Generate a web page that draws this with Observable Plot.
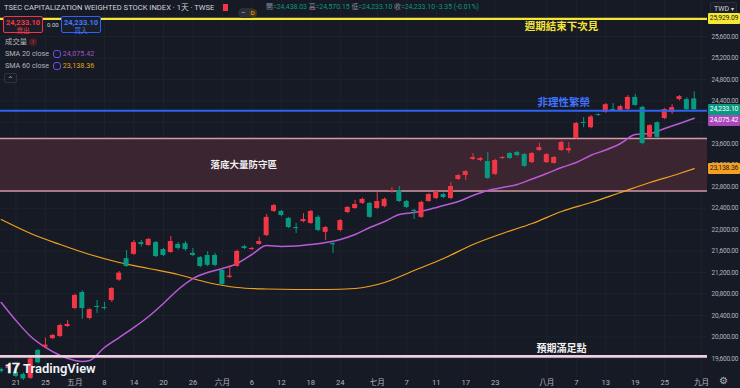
<!DOCTYPE html>
<html><head><meta charset="utf-8">
<script src="https://cdn.jsdelivr.net/npm/d3@7"></script>
<script src="https://cdn.jsdelivr.net/npm/@observablehq/plot@0.6"></script>
<style>
body{margin:0;background:#161a25;}
#wrap{position:relative;width:740px;height:388px;overflow:hidden;background:#161a25;font-family:Roboto,"Noto Sans CJK TC",sans-serif;}
.ov{position:absolute;white-space:nowrap;line-height:1;}
.tag{position:absolute;left:708px;width:32px;height:11px;font-size:6.8px;line-height:11px;text-align:center;border-radius:1px;letter-spacing:-0.15px;}
</style></head><body><div id="wrap"></div>
<script>
// ---- data (trading days, first entry = 2025-04-17) ----
const dates = ["04-17","04-18","04-21","04-22","04-23","04-24","04-25","04-28","04-29","04-30",
"05-02","05-05","05-06","05-07","05-08","05-09","05-12","05-13","05-14","05-15","05-16","05-19","05-20","05-21","05-22","05-23","05-26","05-27","05-28","05-29",
"06-02","06-03","06-04","06-05","06-06","06-09","06-10","06-11","06-12","06-13","06-16","06-17","06-18","06-19","06-20","06-23","06-24","06-25","06-26","06-27","06-30",
"07-01","07-02","07-03","07-04","07-07","07-08","07-09","07-10","07-11","07-14","07-15","07-16","07-17","07-18","07-21","07-22","07-23","07-24","07-25","07-28","07-29","07-30","07-31",
"08-01","08-04","08-05","08-06","08-07","08-08","08-11","08-12","08-13","08-14","08-15","08-18","08-19","08-20","08-21","08-22","08-25","08-26","08-27","08-28","08-29"];
const opens = [19395,19410,19345,19300,19230,19750,19810,19970,20010,20195,
20530,20830,20345,20570,20550,20680,21060,21460,21540,21760,21705,21760,21630,21575,21725,21740,21560,21480,21520,21520,
21240,21110,21315,21685,21630,21725,21890,22340,22340,22210,22040,22150,22115,22230,21950,21740,21985,22320,22395,22490,22490,
22395,22430,22715,22730,22525,22360,22230,22525,22580,22655,22580,22935,23010,23310,23290,23270,23030,23325,23420,23440,23400,23250,23475,
23250,23235,23475,23470,23700,24000,23900,24145,24185,24240,24220,24240,24465,24280,23720,23995,24070,24185,24425,24425,24438];
const highs = [19420,19460,19380,19330,19630,19770,19980,20050,20240,20310,
20800,20860,20530,20680,20645,20920,21220,21610,21800,21800,21840,21780,21650,21875,21760,21780,21650,21500,21590,21560,
21260,21330,21620,21710,21670,21855,22285,22470,22360,22230,22115,22300,22360,22260,22060,21760,22190,22430,22545,22590,22510,
22690,22590,22785,22805,22545,22380,22530,22680,22730,22680,22880,23030,23100,23420,23345,23440,23310,23365,23440,23460,23420,23440,23610,
23420,23365,23650,23625,24000,24090,24130,24160,24350,24350,24320,24500,24520,24300,23960,24010,24260,24330,24500,24460,24570];
const lows = [19330,19380,19240,19190,19210,19500,19800,19950,19990,20180,
20510,20330,20320,20440,20500,20645,21040,21300,21520,21680,21690,21480,21500,21560,21620,21600,21500,21290,21310,21310,
20960,21090,21300,21630,21610,21710,21870,22320,22240,22020,21930,22130,22100,21960,21800,21560,21960,22300,22380,22470,22210,
22380,22410,22680,22505,22395,22190,22210,22510,22560,22580,22560,22915,22915,23290,23270,22935,23010,23310,23310,23360,23160,23230,23460,
23230,23220,23460,23420,23680,23900,23880,24110,24170,24200,24200,24220,24300,23580,23700,23700,24050,24145,24400,24200,24233];
const closes = [19358,19440,19265,19220,19590,19520,19850,20030,20215,20235,
20775,20530,20510,20550,20530,20905,21190,21315,21760,21725,21820,21500,21520,21780,21650,21630,21520,21315,21335,21335,
20980,21135,21595,21650,21650,21780,22230,22450,22265,22040,22020,22190,22340,21985,22040,21720,22170,22415,22470,22565,22230,
22525,22565,22730,22525,22415,22340,22510,22655,22710,22600,22805,23010,23085,23345,23325,22955,23290,23345,23325,23380,23180,23420,23530,
23400,23345,23625,23510,23980,23980,24100,24130,24330,24220,24295,24465,24315,23605,23940,23720,24240,24275,24480,24236,24233.10];

// SMA lines (trading-day index, value)
const sma20Idx = [-2,0,2,4,6,8,9,10,12,14,16,18,20,22,24,26,28,30,32,34,36,38,40,42,44,46,48,50,52,54,56,58,60,62,64,66,68,70,72,74,76,78,80,82,84,86,88,90,92];
const sma20Val = [20644,20307,20010,19805,19656,19563,19544,19563,19805,19990,20178,20383,20625,20886,21090,21202,21277,21370,21538,21705,21687,21696,21724,21761,21817,21910,22041,22153,22283,22320,22376,22450,22525,22637,22730,22786,22842,22944,23047,23159,23252,23388,23485,23606,23774,23793,23886,23979,24075.42];
const sma60Idx = [-2,2,6,10,14,18,22,26,30,34,38,42,46,50,54,58,62,66,70,74,78,82,86,90,92];
const sma60Val = [22190,21930,21724,21538,21389,21277,21165,21016,20923,20895,20886,20886,20904,21016,21240,21463,21724,21930,22115,22339,22507,22693,22879,23047,23138.36];

const tickIdx = [0,4,8,12,16,20,24,28,32,36,40,44,49,53,57,61,65,72,76,80,84,88,93];
const tickLabels = ["21","25","五月","8","14","20","26","六月","6","12","18","24","七月","7","11","17","23","八月","7","13","19","25","九月"];
const priceTicks = [19600,20000,20400,20800,21200,21600,22000,22400,22800,23200,23600,24000,24400,24800,25200,25600];

const levelYellow = 25929.09, levelBlue = 24215, bandTop = 23700, bandBottom = 22720, levelPink = 19640;
const lastClose = 24233.10, sma20Last = 24075.42, sma60Last = 23138.36;

// ---- table ----
const candles = dates.map((d, k) => ({i: k - 2, date: d, o: opens[k], h: highs[k], l: lows[k], c: closes[k]}));
const ups = candles.filter(d => d.c >= d.o), downs = candles.filter(d => d.c < d.o);
const UP = "#f23645", DOWN = "#089981";
const s20 = sma20Idx.map((x, k) => ({x, y: sma20Val[k]}));
const s60 = sma60Idx.map((x, k) => ({x, y: sma60Val[k]}));
const FONT = "Roboto, 'Noto Sans CJK TC', sans-serif";

const body = (data, fill) => Plot.rect(data, {x1: d => d.i - 0.34, x2: d => d.i + 0.34, y1: "o", y2: "c", fill});
const wick = (data, stroke) => Plot.ruleX(data, {x: "i", y1: "l", y2: "h", stroke, strokeWidth: 1});

const plot = Plot.plot({
  width: 740, height: 388,
  marginLeft: 0, marginRight: 33, marginTop: 0, marginBottom: 11,
  style: {background: "transparent", color: "#b2b5be", fontSize: "8px", fontFamily: FONT},
  x: {domain: [-2.1, 93.8], axis: null},
  y: {domain: [19245.8, 26270.8], axis: null},
  marks: [
    Plot.ruleY(priceTicks, {stroke: "#1e222d", strokeWidth: 1}),
    Plot.ruleX(tickIdx, {stroke: "#1e222d", strokeWidth: 1}),
    Plot.axisX({ticks: tickIdx, tickFormat: d => tickLabels[tickIdx.indexOf(d)], tickSize: 0, tickPadding: 2, label: null, fontSize: 7.6, fill: "#b2b5be"}),
    Plot.axisY({anchor: "right", ticks: priceTicks, tickFormat: d3.format(",.2f"), tickSize: 0, tickPadding: 4, label: null, fontSize: 6.5, fill: "#b2b5be", className: "priceaxis"}),
    Plot.rect([{a: bandBottom, b: bandTop}], {y1: "a", y2: "b", fill: "#3a2530"}),
    Plot.ruleY([bandTop, bandBottom], {stroke: "#d49aaa", strokeWidth: 1.6}),
    Plot.line(s60, {x: "x", y: "y", stroke: "#f2a21c", strokeWidth: 1.2, curve: "monotone-x"}),
    Plot.line(s20, {x: "x", y: "y", stroke: "#b95ad8", strokeWidth: 1.5, curve: "monotone-x"}),
    wick(ups, UP), wick(downs, DOWN),
    body(ups, UP), body(downs, DOWN),
    Plot.ruleY([levelYellow], {stroke: "#f5e732", strokeWidth: 2.2}),
    Plot.ruleY([levelBlue], {stroke: "#2e62f0", strokeWidth: 2}),
    Plot.ruleY([levelPink], {stroke: "#f2cfe0", strokeWidth: 2.6}),
    Plot.text([{t: "週期結束下次見", y: levelYellow}], {x: () => 74, y: "y", text: "t", dy: 8, fill: "#f5e53a", fontSize: 10.5, fontWeight: "bold", fontFamily: FONT}),
    Plot.text([{t: "非理性繁榮", y: levelBlue}], {x: () => 74.3, y: "y", text: "t", dy: -8, fill: "#3f74ff", fontSize: 10.5, fontWeight: "bold", fontFamily: FONT}),
    Plot.text([{t: "預期滿足點", y: levelPink}], {x: () => 74, y: "y", text: "t", dy: -8, fill: "#f2f2f2", fontSize: 10, fontWeight: "bold", fontFamily: FONT}),
    Plot.text([{t: "落底大量防守區", y: (bandTop + bandBottom) / 2}], {x: () => 30.9, y: "y", text: "t", fill: "#f0f0f0", fontSize: 9.5, fontWeight: "bold", fontFamily: FONT})
  ]
});
plot.querySelectorAll(".priceaxis text").forEach(t => t.setAttribute("letter-spacing", "-0.2"));
const wrap = document.getElementById("wrap");
wrap.appendChild(plot);
plot.style.position = "absolute"; plot.style.left = "0"; plot.style.top = "0";

function ov(html, css) {
  const d = document.createElement("div");
  d.className = "ov"; d.innerHTML = html; d.style.cssText += css;
  wrap.appendChild(d); return d;
}
// header
ov("TSEC CAPITALIZATION WEIGHTED STOCK INDEX · 1天 · TWSE", "left:4px;top:3.5px;font-size:7.6px;color:#d1d4dc;");
ov("", "left:223px;top:4px;width:5px;height:7px;background:#f23645;");
ov("<span style='display:inline-block;width:18px;height:10px;border-radius:5px;background:#2a2e39;color:#b2b5be;font-size:7px;line-height:10px;padding-left:3px;box-sizing:border-box'>–<span style='display:inline-block;margin-left:3px;width:8px;height:8px;border-radius:4px;background:#4a3413;color:#f5a623;font-size:6px;line-height:8px;text-align:center;vertical-align:top;margin-top:1px'>D</span></span>", "left:238px;top:2px;");
const g = "color:#089981", lab = "color:#8a8f9c";
ov(`<span style="${lab}">開</span><span style="${g}">=24,438.03</span> <span style="${lab}">高</span><span style="${g}">=24,570.15</span> <span style="${lab}">低</span><span style="${g}">=24,233.10</span> <span style="${lab}">收</span><span style="${g}">=24,233.10 -3.35 (-0.01%)</span>`, "left:266px;top:4px;font-size:6.9px;");
ov("TWD <span style='font-size:6px'>▾</span>", "left:710px;top:2px;width:27px;height:12px;border:1px solid #2a2e39;background:#1a1e29;color:#d1d4dc;font-size:7px;line-height:12px;padding-left:3px;box-sizing:border-box;border-radius:2px;");
// buy/sell
ov("<div style='font-weight:bold;font-size:7.5px'>24,233.10</div><div style='font-size:6.5px;margin-top:1px'>賣出</div>", "left:3px;top:16px;width:40px;height:17px;border:1px solid #f23645;border-radius:2px;background:#1b1e28;color:#f23645;text-align:center;padding-top:2px;box-sizing:border-box;");
ov("0.00", "left:47px;top:22px;font-size:6px;color:#d1d4dc;");
ov("<div style='font-weight:bold;font-size:7.5px'>24,233.10</div><div style='font-size:6.5px;margin-top:1px'>買入</div>", "left:61px;top:16px;width:40px;height:17px;border:1px solid #2962ff;border-radius:2px;background:#1b1e28;color:#3d7bff;text-align:center;padding-top:2px;box-sizing:border-box;");
// legend
ov("成交量 <span style='display:inline-block;width:8px;height:8px;border-radius:4px;background:#4a1e26;color:#f23645;font-size:6px;line-height:8px;text-align:center;vertical-align:middle'>!</span>", "left:5px;top:38px;font-size:7.4px;color:#b2b5be;");
ov("SMA 20 close <span style='display:inline-block;width:6px;height:6px;border-radius:3px;border:1.5px solid #6f4cf0;vertical-align:middle;margin-left:2px'></span> <span style='color:#a352c8'>24,075.42</span>", "left:5px;top:50px;font-size:7.2px;color:#b2b5be;");
ov("SMA 60 close <span style='display:inline-block;width:6px;height:6px;border-radius:3px;border:1.5px solid #6f4cf0;vertical-align:middle;margin-left:2px'></span> <span style='color:#e0a21c'>23,138.36</span>", "left:5px;top:62px;font-size:7.2px;color:#b2b5be;");
ov("⌃", "left:4px;top:73px;width:13px;height:10px;border:1px solid #2f3340;border-radius:2px;font-size:8px;color:#b2b5be;text-align:center;line-height:12px;box-sizing:border-box;");
// watermark
ov("<span style='font-weight:900;font-size:14px;letter-spacing:-1px'>𝟏𝟕</span> <span style='font-weight:600;font-size:13px'>TradingView</span>", "left:5px;top:360px;color:#f0f3fa;font-family:Roboto,sans-serif;");
ov("⚙", "left:719px;top:376px;font-size:10px;color:#b2b5be;");
// price tags from the y scale
const ys = plot.scale("y");
function tag(v, bg, fg, minTop) {
  let top = ys.apply(v) - 5.5;
  if (minTop !== undefined) top = Math.max(top, minTop);
  const d = document.createElement("div");
  d.className = "tag"; d.textContent = d3.format(",.2f")(v);
  d.style.top = top + "px"; d.style.background = bg; d.style.color = fg;
  wrap.appendChild(d); return top;
}
tag(levelYellow, "#f5e732", "#131722");
const gt = tag(lastClose, "#089981", "#ffffff");
tag(sma20Last, "#ab47bc", "#ffffff", gt + 11);
tag(sma60Last, "#f5a11e", "#131722");
</script></body></html>
